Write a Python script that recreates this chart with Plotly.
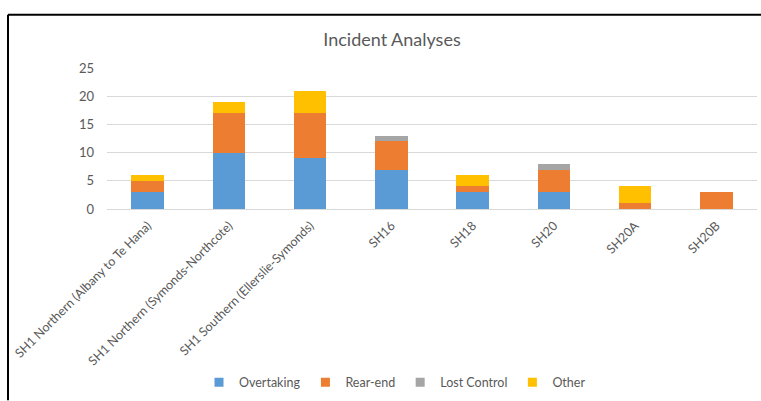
import plotly.graph_objects as go

categories = [
    "SH1 Northern (Albany to Te Hana)",
    "SH1 Northern (Symonds-Northcote)",
    "SH1 Southern (Ellerslie-Symonds)",
    "SH16", "SH18", "SH20", "SH20A", "SH20B",
]
overtaking = [3, 10, 9, 7, 3, 3, 0, 0]
rear_end = [2, 7, 8, 5, 1, 4, 1, 3]
lost_control = [0, 0, 0, 1, 0, 1, 0, 0]
other = [1, 2, 4, 0, 2, 0, 3, 0]

series = [
    ("Overtaking", overtaking, "#5B9BD5"),
    ("Rear-end", rear_end, "#ED7D31"),
    ("Lost Control", lost_control, "#A5A5A5"),
    ("Other", other, "#FFC000"),
]

FONT = "Lato, Open Sans, sans-serif"
fig = go.Figure()
for name, vals, col in series:
    fig.add_trace(go.Bar(
        x=categories, y=vals, name=name, showlegend=False,
        marker=dict(color=col, line=dict(width=0)),
        width=0.4,
    ))
# legend entries with small square markers
for name, vals, col in series:
    fig.add_trace(go.Scatter(
        x=[None], y=[None], name=name, mode="markers",
        marker=dict(symbol="square", size=9, color=col),
    ))

# plot area: x 107..757 (650px), y 68..211 (143px)
L, R, T, B = 107, 757, 68, 211
W, H = 761, 401
def px(x):
    return (x - L) / (R - L)
def py(y):
    return (B - y) / (B - T)

fig.update_layout(
    width=W, height=H,
    barmode="stack",
    paper_bgcolor="white", plot_bgcolor="white",
    margin=dict(l=L, r=W - R, t=T, b=H - B, pad=0),
    title=dict(text="Incident Analyses", xref="container", x=392 / W,
               xanchor="center", y=1 - 40 / H, yanchor="middle",
               font=dict(family=FONT, size=18, color="#595959")),
    font=dict(family=FONT, size=12, color="#595959"),
    xaxis=dict(tickangle=-45, showgrid=False, showline=False, ticks="",
               tickfont=dict(size=12.5, color="#595959"),
               ticklabelstandoff=6),
    yaxis=dict(range=[0, 25], dtick=5, showgrid=True, gridcolor="#D9D9D9",
               gridwidth=1, zeroline=True, zerolinecolor="#D9D9D9",
               zerolinewidth=1, ticks="", showline=False,
               tickfont=dict(size=13, color="#595959"), ticklabelstandoff=12),
    showlegend=True,
    legend=dict(orientation="h", x=px(395), xanchor="center",
                y=py(387), yanchor="middle",
                font=dict(size=12.5, color="#595959"), traceorder="normal",
                itemwidth=30, tracegroupgap=0),
    shapes=[
        dict(type="line", xref="paper", yref="paper",
             x0=px(8), x1=px(765), y0=py(14), y1=py(14),
             line=dict(color="black", width=2)),
        dict(type="line", xref="paper", yref="paper",
             x0=px(8), x1=px(8), y0=py(14), y1=py(405),
             line=dict(color="black", width=2)),
    ],
)

fig.write_html("out.html")
